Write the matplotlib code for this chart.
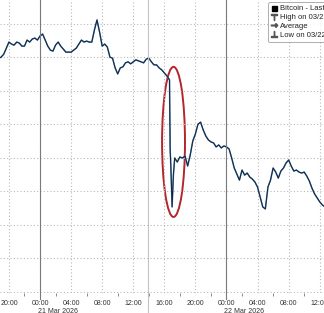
import pandas as pd
import numpy as np
import matplotlib
matplotlib.use("Agg")
import matplotlib.pyplot as plt
import matplotlib.dates as mdates
from matplotlib.patches import Ellipse
from matplotlib.lines import Line2D

plt.rcParams['font.family'] = ['Liberation Sans', 'DejaVu Sans']

# Bitcoin last price, 20-minute samples
start = "2026-03-20 18:40"
prices = [70490, 70505, 70550, 70640, 70730, 70700, 70685, 70730, 70715, 70670,
          70670, 70760, 70730, 70775, 70790, 70760, 70820, 70850, 70760, 70670,
          70610, 70595, 70685, 70730, 70670, 70625, 70580, 70580, 70580, 70610,
          70640, 70700, 70760, 70730, 70745, 70730, 70730, 70910, 71060, 70880,
          70670, 70700, 70655, 70505, 70490, 70345, 70255, 70345, 70360, 70420,
          70435, 70405, 70435, 70465, 70450, 70435, 70420, 70475, 70490, 70435,
          70390, 70390, 70345, 70315, 70270, 70225, 70165, 68270, 69000, 68940,
          69015, 69000, 69030, 68880, 69045, 69255, 69360, 69505, 69535, 69420,
          69330, 69270, 69240, 69225, 69165, 69195, 69150, 69180, 69165, 69135,
          69000, 68850, 68760, 68670, 68820, 68745, 68775, 68715, 68685, 68640,
          68565, 68420, 68270, 68240, 68565, 68670, 68850, 68790, 68700, 68805,
          68850, 68925, 68970, 68880, 68805, 68820, 68790, 68775, 68790, 68730,
          68655, 68550, 68465, 68405, 68345, 68300, 68270]

# extra ticks around the flash crash
crash_times = ["2026-03-21 16:45", "2026-03-21 16:50", "2026-03-21 16:55", "2026-03-21 17:10"]
crash_prices = [69120, 68895, 68595, 68745]

s = pd.Series(prices, index=pd.date_range(start, periods=len(prices), freq="20min"))
s = pd.concat([s, pd.Series(crash_prices, index=pd.to_datetime(crash_times))]).sort_index()

x_start = pd.Timestamp("2026-03-20 18:51")
x_end = pd.Timestamp("2026-03-22 12:33")
day_labels = ["21 Mar 2026", "22 Mar 2026"]
midnights = pd.to_datetime(["2026-03-21 00:00", "2026-03-22 00:00"])
marker_line = pd.Timestamp("2026-03-21 13:54")

fig = plt.figure(figsize=(3.24, 3.13), dpi=100)
ax = fig.add_axes([0, 20 / 313, 1, 293 / 313])

ax.plot(s.index, s.values, color="#4a8ccc", lw=1.1)
ax.plot(s.index, s.values, color="#1b2533", lw=0.75)

ax.set_xlim(x_start, x_end)
ax.set_ylim(66985, 71358)
ax.set_yticks(np.arange(67000, 71001, 500))
ax.tick_params(axis="y", left=False, labelleft=False)

ax.xaxis.set_major_locator(mdates.HourLocator(byhour=range(0, 24, 4)))
ax.xaxis.set_minor_locator(mdates.HourLocator(byhour=range(2, 24, 4)))
ax.xaxis.set_major_formatter(mdates.DateFormatter("%H:%M"))
ax.tick_params(axis="x", which="major", length=0, pad=5, labelsize=5, labelcolor="#333333")
ax.tick_params(axis="x", which="minor", length=2.5, width=0.6, color="#777777")

ax.grid(True, color="#b8b8b8", linestyle=(0, (1, 2)), lw=0.8)
for sp in ax.spines.values():
    sp.set_visible(False)

for m, lab in zip(midnights, day_labels):
    ax.plot([m, m], [-0.02, 1], transform=ax.get_xaxis_transform(), color="#7a7a7a",
            lw=0.8, clip_on=False)
    ax.annotate(lab, xy=(m, 0), xycoords=("data", "axes fraction"), xytext=(-1.5, -13),
                textcoords="offset points", ha="left", va="center", fontsize=5, color="#333333")
ax.plot([marker_line, marker_line], [-0.1, 1], transform=ax.get_xaxis_transform(),
        color="#c4c4c4", lw=0.8, clip_on=False)

# red circle around the crash
c = mdates.date2num(pd.Timestamp("2026-03-21 17:11"))
ax.add_patch(Ellipse((c, 69240), width=2.95 / 24, height=2240, fill=False,
                     edgecolor="#b3262b", lw=1.4))

handles = [
    Line2D([], [], ls="none", marker="s", ms=3.6, color="black"),
    Line2D([], [], ls="none", marker=r"$\top$", ms=4, color="#555555"),
    Line2D([], [], ls="none", marker=r"$\rightarrow$", ms=4.5, color="#555555"),
    Line2D([], [], ls="none", marker=r"$\bot$", ms=4, color="#555555"),
]
labels = ["Bitcoin - Last Price", "High on 03/21/26", "Average", "Low on 03/22/26"]
leg = fig.legend(handles, labels, loc="upper left", bbox_to_anchor=(268 / 324, 1 - 2 / 313),
                 fontsize=5.5, frameon=True, fancybox=True, handlelength=0.7,
                 handletextpad=0.45, labelspacing=0.2, borderpad=0.4, borderaxespad=0)
leg.get_frame().set_edgecolor("#9a9a9a")
leg.get_frame().set_linewidth(0.7)
for t in leg.get_texts():
    t.set_color("#222222")

fig.savefig("out.png", dpi=100)
